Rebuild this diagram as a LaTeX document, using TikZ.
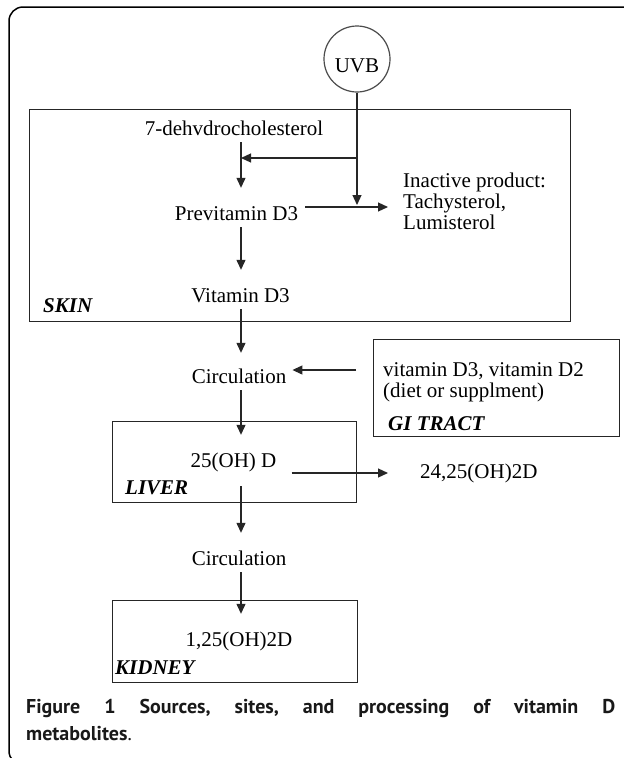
\documentclass[tikz,border=0pt]{standalone}
\usepackage{fontspec}
\setmainfont{Liberation Serif}
\newfontfamily\capfont{PT Sans}
\usetikzlibrary{arrows.meta,calc}

\begin{document}
\begin{tikzpicture}[x=1pt,y=-1pt,
  stage/.style={inner sep=3pt,font=\fontsize{21}{21}\selectfont,text height=14pt,text depth=4pt},
  organ/.style={draw=black!85,line width=1.4pt,anchor=north west,inner sep=0pt},
  tag/.style={inner sep=0pt,anchor=west,font=\fontsize{21}{21}\selectfont\bfseries\itshape},
  flow/.style={draw=black!85,line width=1.2pt,-{Triangle[length=10pt,width=9pt]},shorten >=15pt},
  side/.style={draw=black!85,line width=1.2pt,-{Triangle[length=10pt,width=9pt]}},
]
\useasboundingbox (0,0) rectangle (624,758);
\fill[white] (0,0) rectangle (624,758);
\begin{scope}
\clip (0,0) rectangle (624,758);
\draw[line width=1.5pt,rounded corners=14pt] (9,7) rectangle (660,765);
\end{scope}

\node[organ,minimum width=541pt,minimum height=212pt] (skin) at (29,109) {};
\node[organ,minimum width=246pt,minimum height=97pt] (gibox) at (373,339) {};
\node[organ,minimum width=244pt,minimum height=81pt] (liver) at (112,421) {};
\node[organ,minimum width=245pt,minimum height=82pt] (kidney) at (112,600) {};

\node[circle,draw=black!70,line width=1.2pt,minimum size=66pt,inner sep=0pt,text height=26pt,text depth=0pt,font=\fontsize{21}{21}\selectfont] (uvb) at (357,59) {UVB};

\node[stage] (dehydro) at (234,130) {7-dehvdrocholesterol};
\node[stage] (previt) at (236.5,215) {Previtamin D3};
\node[stage] (vitd) at (240.5,297) {Vitamin D3};
\node[stage] (circa) at (239,378) {Circulation};
\node[stage] (ohd) at (233.5,462) {25(OH) D};
\node[stage] (circb) at (239,560) {Circulation};
\node[stage] (calcitriol) at (239,641) {1,25(OH)2D};
\node[stage,anchor=west] (dihyd) at (417,473) {24,25(OH)2D};
\node[anchor=west,inner sep=3pt,align=left,font=\fontsize{21}{21}\selectfont] (inact) at (400,201) {Inactive product:\\Tachysterol,\\Lumisterol};
\node[anchor=west,inner sep=0pt,align=left,font=\fontsize{21}{21}\selectfont] (gitext) at (383,382) {vitamin D3, vitamin D2\\(diet or supplment)};

\node[tag] (skintag) at (43,306) {SKIN};
\node[tag] (gitag) at (388,424) {GI TRACT};
\node[tag] (livertag) at (125,488) {LIVER};
\node[tag] (kidneytag) at (115,668) {KIDNEY};

\coordinate (col) at (241,0);
\coordinate (split) at (357,158);
\coordinate (meet) at (241,158);
\coordinate (cross) at (357,207);

\draw[side,shorten >=2pt] (uvb) -- (cross);
\draw[side] (split) -- (meet);
\draw[flow] (dehydro.south -| col) -- (previt.north -| col);
\draw[side,shorten <=4pt,shorten >=12pt] ([yshift=8pt]previt.east) -- ([yshift=8pt]previt.east -| inact.west);
\draw[flow] (previt.south -| col) -- (vitd.north -| col);
\draw[flow,shorten >=13pt] (vitd.south -| col) -- (circa.north -| col);
\draw[side,shorten <=17pt,shorten >=3pt] ([yshift=8pt]circa.east -| gibox.west) -- ([yshift=8pt]circa.east);
\draw[flow] (circa.south -| col) -- (ohd.north -| col);
\draw[side,shorten <=12pt,shorten >=29pt] (ohd.east |- dihyd.west) -- (dihyd.west);
\draw[flow,shorten <=12pt] (ohd.south -| col) -- (circb.north -| col);
\draw[flow] (circb.south -| col) -- (calcitriol.north -| col);

\node[anchor=base west,inner sep=0pt,font=\capfont\fontsize{20}{27}\selectfont\bfseries,text=black!90] (capa) at (26,713) {\hbox to 589pt{Figure\hfill 1\hfill Sources,\hfill sites,\hfill and\hfill processing\hfill of\hfill vitamin\hfill D}};
\node[anchor=base west,inner sep=0pt,font=\capfont\fontsize{20}{27}\selectfont\bfseries,text=black!90] (capb) at (26,740) {metabolites{\mdseries .}};
\end{tikzpicture}
\end{document}
